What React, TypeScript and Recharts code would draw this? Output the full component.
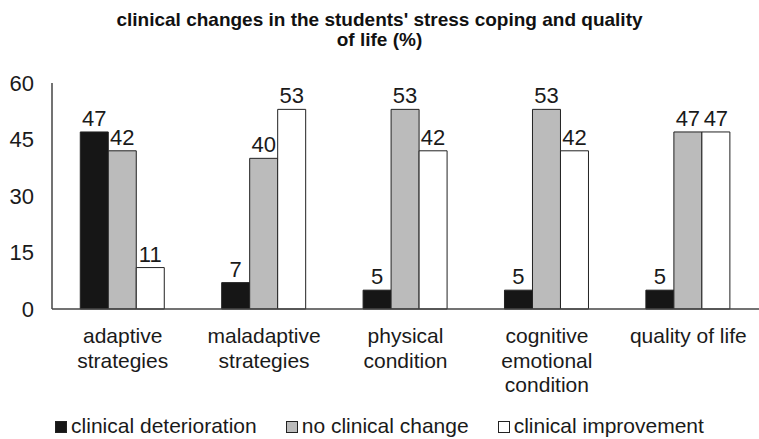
import React from "react";
import { BarChart, Bar, XAxis, YAxis, LabelList, Legend } from "recharts";

const categories = [
  "adaptive strategies",
  "maladaptive strategies",
  "physical condition",
  "cognitive emotional condition",
  "quality of life",
];
const tickLines = [
  ["adaptive", "strategies"],
  ["maladaptive", "strategies"],
  ["physical", "condition"],
  ["cognitive", "emotional", "condition"],
  ["quality of life"],
];
const deterioration = [47, 7, 5, 5, 5];
const noChange = [42, 40, 53, 53, 47];
const improvement = [11, 53, 42, 42, 47];
const yTicks = [0, 15, 30, 45, 60];

const series = [
  { key: "deterioration", name: "clinical deterioration", fill: "#161616" },
  { key: "noChange", name: "no clinical change", fill: "#bbbbbb" },
  { key: "improvement", name: "clinical improvement", fill: "#ffffff" },
];

const data = categories.map((c, i) => ({
  name: c,
  deterioration: deterioration[i],
  noChange: noChange[i],
  improvement: improvement[i],
}));

const FONT = "'Liberation Sans', Arial, sans-serif";

const CategoryTick = ({ x, y, payload, index }: any) => {
  const lines = tickLines[index] || [payload.value];
  return (
    <text x={x} y={y} textAnchor="middle" fontSize={21} fill="#1a1a1a" fontFamily={FONT}>
      {lines.map((l: string, i: number) => (
        <tspan key={i} x={x} dy={i === 0 ? 26 : 24.5}>
          {l}
        </tspan>
      ))}
    </text>
  );
};

const LegendContent = () => (
  <div
    style={{
      display: "flex",
      justifyContent: "center",
      gap: 29,
      fontFamily: FONT,
      fontSize: 21,
      lineHeight: "24px",
      color: "#1a1a1a",
      paddingTop: 5,
    }}
  >
    {series.map((s) => (
      <div key={s.key} style={{ display: "flex", alignItems: "center" }}>
        <span
          style={{
            display: "inline-block",
            width: 10,
            height: 10,
            background: s.fill,
            border: "1px solid #222",
            marginRight: 4,
            marginTop: 2,
          }}
        />
        <span>{s.name}</span>
      </div>
    ))}
  </div>
);

export default function App() {
  return (
    <div style={{ position: "absolute", left: 0, top: 0, width: 759, height: 439, background: "#fff" }}>
      <div
        style={{
          position: "absolute",
          top: 10,
          left: 0,
          width: 759,
          textAlign: "center",
          fontFamily: FONT,
          fontWeight: "bold",
          fontSize: 19,
          lineHeight: "20px",
          color: "#111",
        }}
      >
        clinical changes in the students' stress coping and quality
        <br />
        of life (%)
      </div>
      <BarChart
        width={759}
        height={439}
        data={data}
        margin={{ top: 83, right: 0, left: 0, bottom: 0 }}
        barCategoryGap="20%"
        barGap={0}
      >
        <XAxis
          dataKey="name"
          tick={<CategoryTick />}
          tickLine={false}
          axisLine={{ stroke: "#444", strokeWidth: 1.5 }}
          interval={0}
          height={100}
        />
        <YAxis
          domain={[0, 60]}
          ticks={yTicks}
          width={52}
          tickLine={false}
          axisLine={{ stroke: "#444", strokeWidth: 1.5 }}
          tick={{ fontSize: 22, fill: "#1a1a1a", fontFamily: FONT }}
          tickMargin={12}
        />
        <Legend verticalAlign="bottom" height={30} content={<LegendContent />} />
        {series.map((s) => (
          <Bar
            key={s.key}
            dataKey={s.key}
            name={s.name}
            fill={s.fill}
            stroke="#222"
            strokeWidth={1}
            isAnimationActive={false}
          >
            <LabelList
              dataKey={s.key}
              position="top"
              offset={6}
              style={{ fontSize: 22, fill: "#1a1a1a", fontFamily: FONT }}
            />
          </Bar>
        ))}
      </BarChart>
    </div>
  );
}
